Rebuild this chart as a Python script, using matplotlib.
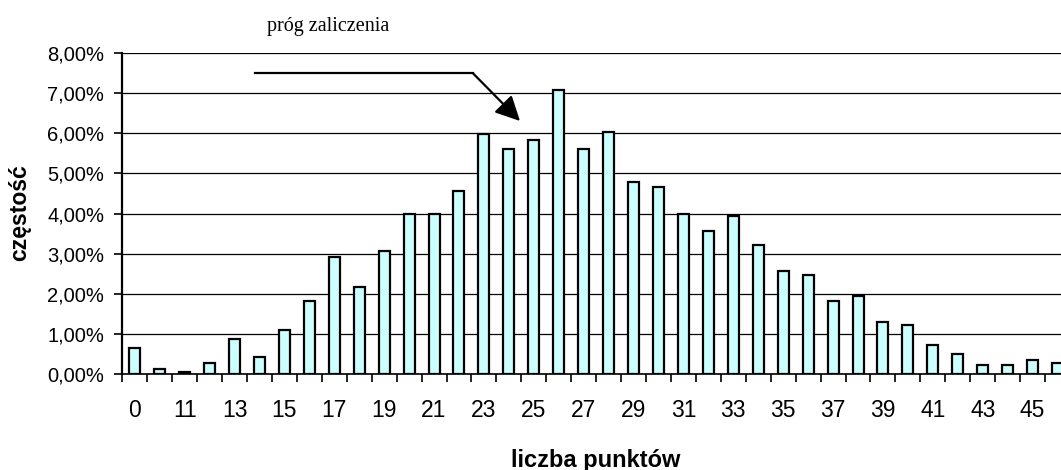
import matplotlib
matplotlib.use("Agg")
import matplotlib.pyplot as plt
from matplotlib.ticker import FixedLocator, FuncFormatter
from matplotlib.lines import Line2D
from matplotlib.patches import FancyArrowPatch

categories = ["0", "10", "11", "12", "13", "14", "15", "16", "17", "18", "19", "20",
              "21", "22", "23", "24", "25", "26", "27", "28", "29", "30", "31", "32",
              "33", "34", "35", "36", "37", "38", "39", "40", "41", "42", "43", "44",
              "45", "46"]
values = [0.65, 0.13, 0.06, 0.28, 0.87, 0.43, 1.09, 1.83, 2.91, 2.18, 3.06, 4.00,
          4.00, 4.57, 5.98, 5.60, 5.82, 7.06, 5.60, 6.03, 4.79, 4.67, 4.00, 3.57,
          3.93, 3.21, 2.56, 2.48, 1.83, 1.95, 1.30, 1.23, 0.73, 0.50, 0.22, 0.22,
          0.36, 0.28]
y_ticks = [0, 1, 2, 3, 4, 5, 6, 7, 8]
annotation_text = "próg zaliczenia"
x_title = "liczba punktów"
y_title = "częstość"

W, H = 1061, 470
fig = plt.figure(figsize=(W / 100, H / 100), dpi=100)
left_px, right_px, bottom_px, top_px = 122.3, 1070.0, 374.3, 52.7
ax = fig.add_axes([left_px / W, 1 - bottom_px / H,
                   (right_px - left_px) / W, (bottom_px - top_px) / H])

x = list(range(len(categories)))
ax.bar(x, values, width=0.44, color="#CCFFFF", edgecolor="black", linewidth=1.6, zorder=3)

ax.set_xlim(-0.5, len(categories) - 0.5)
ax.set_ylim(0, 8)

ax.yaxis.set_major_locator(FixedLocator(y_ticks))
ax.yaxis.set_major_formatter(FuncFormatter(lambda v, p: f"{v:.2f}".replace(".", ",") + "%"))
ax.yaxis.grid(True, color="black", linewidth=0.9, zorder=0)
ax.set_axisbelow(True)

ax.set_xticks(x[::2])
ax.set_xticklabels(categories[::2])
ax.set_xticks([i - 0.5 for i in range(len(categories) + 1)], minor=True)
ax.tick_params(axis="x", which="major", length=0, pad=18, labelsize=16.5)
ax.tick_params(axis="x", which="minor", length=6, width=1.2, direction="out")
ax.tick_params(axis="y", which="major", length=6, width=1.2, pad=7, labelsize=14.5)
for lab in ax.get_xticklabels() + ax.get_yticklabels():
    lab.set_fontfamily("Liberation Sans")

for s in ["top", "right"]:
    ax.spines[s].set_visible(False)
ax.spines["left"].set_linewidth(1.6)
ax.spines["bottom"].set_linewidth(1.2)

fig.text((left_px + right_px) / 2 / W, 1 - 449 / H, x_title, ha="center", va="top",
         fontsize=17, fontweight="bold", family="Liberation Sans")
fig.text(20 / W, 1 - 213 / H, y_title, ha="center", va="center", rotation=90,
         fontsize=16.5, fontweight="bold", family="Liberation Sans")
fig.text(328 / W, 1 - 26 / H, annotation_text, ha="center", va="center",
         fontsize=14.5, family="Liberation Serif")

# arrow pointing to the threshold
def fp(px, py):
    return (px / W, 1 - py / H)

p0, p1, p2 = fp(255, 73.3), fp(473, 73.3), fp(520, 121)
fig.add_artist(Line2D([p0[0], p1[0]], [p0[1], p1[1]], color="black", linewidth=1.6,
                      transform=fig.transFigure))
arr = FancyArrowPatch(p1, p2, transform=fig.transFigure, arrowstyle="-|>,head_length=15,head_width=7.5",
                      mutation_scale=1, color="black", linewidth=1.6, shrinkA=0, shrinkB=0)
fig.add_artist(arr)

fig.savefig("out.png", dpi=100)
